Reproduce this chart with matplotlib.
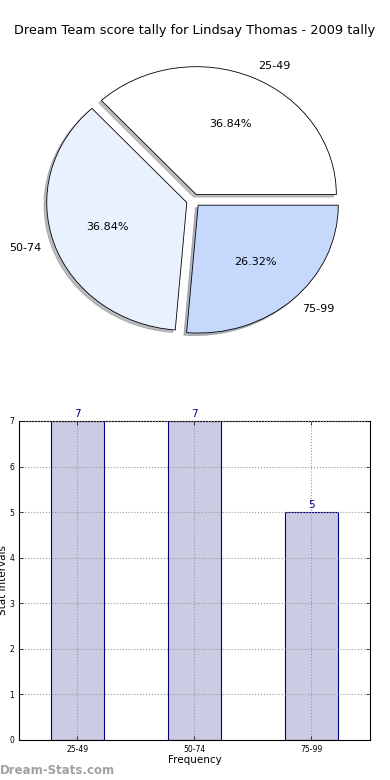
import matplotlib.pyplot as plt

# data
categories = ['25-49', '50-74', '75-99']
counts = [7, 7, 5]
pie_colors = ['#ffffff', '#eaf1fe', '#c6d9fd']
title = 'Dream Team score tally for Lindsay Thomas - 2009 tally'

fig = plt.figure(figsize=(3.9, 7.8), dpi=100)

# pie on top
ax1 = fig.add_axes([0.047, 0.538, 0.898, 0.41])
wedges, texts, autotexts = ax1.pie(counts, labels=categories, colors=pie_colors,
                                   explode=[0.05, 0.05, 0.05], autopct='%1.2f%%',
                                   shadow={'ox': -0.014, 'oy': -0.014, 'shade': 0.5},
                                   startangle=0,
                                   wedgeprops={'edgecolor': 'black', 'linewidth': 0.6},
                                   textprops={'fontsize': 8})
ax1.set_aspect('auto')
ax1.set_xlim(-1.25, 1.25)
ax1.set_ylim(-1.25, 1.25)
fig.text(0.5, 0.961, title, ha='center', va='center', fontsize=9.3)

# bar chart below
ax2 = fig.add_axes([0.0487, 0.0513, 0.9, 0.409])
x = list(range(len(categories)))
bars = ax2.bar(x, counts, width=0.45, color='#cbcce3', edgecolor='navy', linewidth=0.8)
for xi, c in zip(x, counts):
    ax2.text(xi, c + 0.05, str(c), ha='center', va='bottom', color='navy', fontsize=7.5)
ax2.set_xlim(-0.5, 2.5)
ax2.set_ylim(0, 7)
ax2.set_xticks(x)
ax2.set_xticklabels(categories)
ax2.set_yticks(range(8))
ax2.tick_params(labelsize=5.5, direction='in', top=True, right=True, length=3, width=0.5)
ax2.grid(True, linestyle=':', color='#999999', linewidth=0.8)
ax2.set_axisbelow(False)
ax2.set_xlabel('Frequency', fontsize=7.5, labelpad=1)
ax2.set_ylabel('Stat Intervals', fontsize=7.5, labelpad=1)
for s in ax2.spines.values():
    s.set_linewidth(0.8)

fig.text(0.0, 0.004, 'Dream-Stats.com', color='#a0a0a0', fontsize=8.5, fontweight='semibold', ha='left', va='bottom')

fig.savefig('out.png', dpi=100)
